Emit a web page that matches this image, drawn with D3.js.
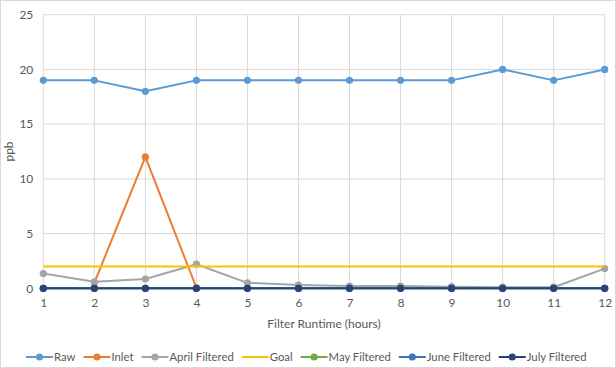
<!DOCTYPE html>
<html><head><meta charset="utf-8">
<script src="https://cdn.jsdelivr.net/npm/d3@7"></script>
<style>body{margin:0;background:#fff}svg{display:block;font-family:Lato,"Open Sans",sans-serif}</style>
</head><body><svg id="c" width="616" height="368"></svg>
<script>
const hours = [1,2,3,4,5,6,7,8,9,10,11,12];
const yTicks = [0,5,10,15,20,25];
const raw = [19,19,18,19,19,19,19,19,19,20,19,20];
const inlet = [null,0.5,12,0.05,null,null,null,null,null,null,null,null];
const aprilFiltered = [1.35,0.6,0.85,2.2,0.5,0.3,0.2,0.2,0.15,0.1,0.1,1.8];
const goal = [2,2,2,2,2,2,2,2,2,2,2,2];
const mayFiltered = [0,0,0,0,0,0,0,0,0,0,0,0];
const juneFiltered = [0,0,0,0,0,0,0,0,0,0,0,0];
const julyFiltered = [0,0,0,0,0,0,0,0,0,0,0,0];
const seriesNames = ["Raw","Inlet","April Filtered","Goal","May Filtered","June Filtered","July Filtered"];
const seriesValues = [raw,inlet,aprilFiltered,goal,mayFiltered,juneFiltered,julyFiltered];
const seriesColors = ["#5B9BD5","#ED7D31","#A5A5A5","#FFC000","#70AD47","#4472C4","#264478"];
const seriesMarkers = [true,true,true,false,true,true,true];

const svg = d3.select("#c");
svg.append("rect").attr("x",0.5).attr("y",0.5).attr("width",615).attr("height",367)
  .attr("fill","#fff").attr("stroke","#d9d9d9");
const x = d3.scaleLinear().domain([1,12]).range([43.3,604.7]);
const y = d3.scaleLinear().domain([0,25]).range([288.3,14.7]);

// grid
const g = svg.append("g");
g.selectAll(".hg").data(yTicks).join("line")
  .attr("x1",x(1)).attr("x2",x(12)).attr("y1",d=>y(d)).attr("y2",d=>y(d))
  .attr("stroke","#d9d9d9").attr("stroke-width",1);
g.selectAll(".vg").data(hours).join("line")
  .attr("x1",d=>x(d)).attr("x2",d=>x(d)).attr("y1",y(0)).attr("y2",y(25))
  .attr("stroke","#d9d9d9").attr("stroke-width",1);

// axes
const yAxis = svg.append("g").attr("transform",`translate(${x(1)},0)`)
  .call(d3.axisLeft(y).tickValues(yTicks).tickSize(0).tickPadding(10));
yAxis.select(".domain").remove();
yAxis.selectAll("text").attr("font-size",12).attr("fill","#595959").attr("font-family","Lato");
const xAxis = svg.append("g").attr("transform",`translate(0,${y(0)})`)
  .call(d3.axisBottom(x).tickValues(hours).tickFormat(d3.format("d")).tickSize(0).tickPadding(10));
xAxis.select(".domain").remove();
xAxis.selectAll("text").attr("font-size",12).attr("fill","#595959").attr("font-family","Lato");

svg.append("text").attr("x",324).attr("y",328).attr("text-anchor","middle")
  .attr("font-size",12).attr("fill","#595959").text("Filter Runtime (hours)");
svg.append("text").attr("transform",`translate(13,${(y(0)+y(25))/2}) rotate(-90)`)
  .attr("text-anchor","middle").attr("font-size",12).attr("fill","#595959").text("ppb");

// series
const line = d3.line().defined(d=>d.v!=null).x(d=>x(d.h)).y(d=>y(d.v));
seriesValues.forEach((vals,i)=>{
  const pts = vals.map((v,j)=>({h:hours[j],v}));
  svg.append("path").datum(pts).attr("d",line).attr("fill","none")
    .attr("stroke",seriesColors[i]).attr("stroke-width",2).attr("stroke-linejoin","round");
  if(seriesMarkers[i]){
    svg.append("g").selectAll("circle").data(pts.filter(d=>d.v!=null)).join("circle")
      .attr("cx",d=>x(d.h)).attr("cy",d=>y(d.v)).attr("r",3.6).attr("fill",seriesColors[i]);
  }
});

// legend
const lg = svg.append("g").attr("transform","translate(0,357)");
let cx = 26;
seriesNames.forEach((n,i)=>{
  const it = lg.append("g").attr("transform",`translate(${cx},0)`);
  it.append("line").attr("x1",0).attr("x2",27).attr("y1",0).attr("y2",0)
    .attr("stroke",seriesColors[i]).attr("stroke-width",2);
  if(seriesMarkers[i]) it.append("circle").attr("cx",13.5).attr("cy",0).attr("r",3.6).attr("fill",seriesColors[i]);
  const t = it.append("text").attr("x",28).attr("y",4).attr("font-size",11.3).attr("fill","#595959").text(n);
  cx += 28 + t.node().getComputedTextLength() + 8;
});
</script></body></html>
